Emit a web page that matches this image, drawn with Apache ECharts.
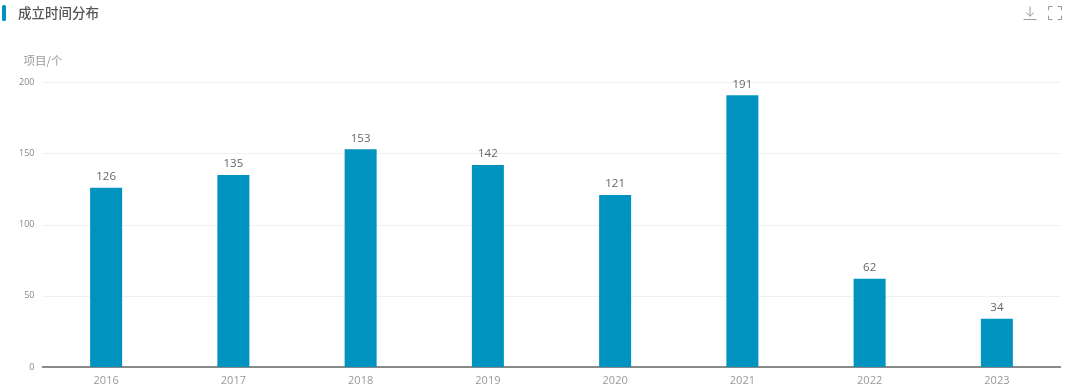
<!DOCTYPE html>
<html><head><meta charset="utf-8">
<style>html,body{margin:0;padding:0;background:#fff}#c{width:1080px;height:392px}</style>
<script src="https://cdn.jsdelivr.net/npm/echarts@6/dist/echarts.min.js"></script>
</head><body><div id="c"></div>
<script>
const years = ['2016','2017','2018','2019','2020','2021','2022','2023'];
const counts = [126,135,153,142,121,191,62,34];
const yTicks = {min:0,max:200,interval:50};
const chartTitle = '成立时间分布';
const yName = '项目/个';
const font = '"Noto Sans CJK SC","Open Sans",sans-serif';
const chart = echarts.init(document.getElementById('c'),null,{renderer:'canvas'});
chart.setOption({
  animation:false,
  backgroundColor:'#fff',
  title:{text:chartTitle,left:13,top:1,textStyle:{fontFamily:font,fontSize:13.5,fontWeight:500,color:'#555'}},
  graphic:[{type:'rect',shape:{x:2,y:5,width:4,height:16,r:1.5},style:{fill:'#0093c0'}}],
  toolbox:{show:true,right:1,top:-11,itemSize:13,itemGap:7,
    iconStyle:{color:'none',borderColor:'#999',borderWidth:1},
    feature:{
      myDownload:{show:true,title:'下载',icon:'path://M12 0V18M5 11L12 18L19 11M0 24H24',onclick(){}},
      myFull:{show:true,title:'全屏',icon:'path://M0 7V0H7M17 0H24V7M24 17V24H17M7 24H0V17',onclick(){}}
    }},
  grid:{left:42.5,right:19.5,top:82.5,bottom:25,containLabel:false},
  xAxis:{type:'category',data:years,
    axisLine:{lineStyle:{color:'#666',width:1.5}},axisTick:{show:false},
    axisLabel:{color:'#999',fontSize:11,margin:8,fontFamily:'"Open Sans",sans-serif'}},
  yAxis:{type:'value',min:yTicks.min,max:yTicks.max,interval:yTicks.interval,
    name:yName,nameLocation:'end',nameGap:16,
    nameTextStyle:{color:'#999',fontSize:11.5,fontFamily:font,align:'left',padding:[0,0,0,-19]},
    axisLine:{show:false},axisTick:{show:false},
    splitLine:{lineStyle:{color:'#f0f0f0',width:1}},
    axisLabel:{color:'#888',fontSize:9,margin:8,fontFamily:'"Open Sans",sans-serif'}},
  series:[{type:'bar',data:counts,barWidth:32,
    itemStyle:{color:'#0093c0'},
    label:{show:true,position:'top',distance:5,color:'#666',fontSize:11.5,fontFamily:'"Open Sans",sans-serif'}}]
});
</script></body></html>
